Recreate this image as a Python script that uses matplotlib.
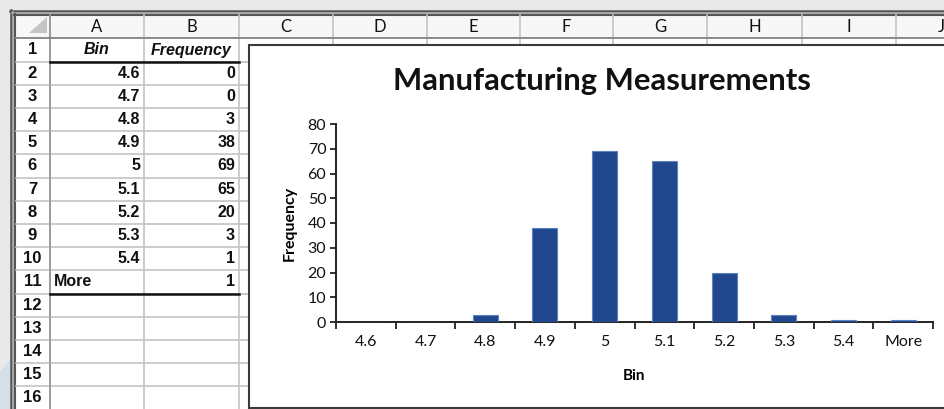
import matplotlib
matplotlib.use("Agg")
import matplotlib.pyplot as plt
from matplotlib.patches import Rectangle, Polygon

# histogram table: bin upper edges and counts
bins = ["4.6", "4.7", "4.8", "4.9", "5", "5.1", "5.2", "5.3", "5.4", "More"]
frequency = [0, 0, 3, 38, 69, 65, 20, 3, 1, 1]
column_letters = ["A", "B", "C", "D", "E", "F", "G", "H", "I", "J"]
row_numbers = list(range(1, 17))
y_ticks = [0, 10, 20, 30, 40, 50, 60, 70, 80]

W, H = 944, 409
fig = plt.figure(figsize=(W / 100, H / 100), dpi=100)
fig.patch.set_facecolor("#e9e9e9")

# sheet layer drawn in pixel coordinates
sheet = fig.add_axes([0, 0, 1, 1])
sheet.set_xlim(0, W)
sheet.set_ylim(H, 0)
sheet.axis("off")

# desktop showing through at the lower left
sheet.add_patch(Polygon([[0, 372], [10, 360], [10, H], [0, H]], closed=True,
                        facecolor="#d3e0ea", edgecolor="none"))

col_edges = [50, 144, 239, 333, 427, 520, 613, 707, 802, 896, 986]
header_top, header_bottom = 15, 37.5
row_h = 23.2
row_top = 38.4

# sheet body
sheet.add_patch(Rectangle((15, header_top), W, H, facecolor="white", edgecolor="none"))
sheet.add_patch(Rectangle((15, header_top), W, header_bottom - header_top,
                          facecolor="#f7f7f7", edgecolor="none"))

# outer double frame
for x, c, lw in [(11, "#555555", 1.8), (13, "#a8a8a8", 1.2), (15, "#555555", 1.5)]:
    sheet.plot([x, x], [x - 1, H], color=c, lw=lw)
    sheet.plot([x - 1, W], [x, x], color=c, lw=lw)

# corner triangle
sheet.add_patch(Polygon([[29, 33], [47, 33], [47, 17]], closed=True,
                        facecolor="#c4c4c4", edgecolor="none"))

# grid lines
for i in range(len(row_numbers) + 1):
    y = row_top + i * row_h
    sheet.plot([16, W], [y, y], color="#c4c4c4", lw=1.2)
for x in col_edges:
    sheet.plot([x, x], [header_top, H], color="#c4c4c4", lw=1.2)
sheet.plot([50, 50], [header_top, H], color="#8f8f8f", lw=1.1)
sheet.plot([16, W], [header_bottom, header_bottom], color="#7a7a7a", lw=1.1)

# column and row headers (last column only partly on screen)
for i, letter in enumerate(column_letters):
    xc = (col_edges[i] + col_edges[i + 1]) / 2
    sheet.text(xc, 26.5, letter, ha="center", va="center", fontsize=12,
               family="Lato", color="#111111", clip_on=True)
for r in row_numbers:
    yc = row_top + (r - 0.5) * row_h
    sheet.text(32.5, yc, str(r), ha="center", va="center", fontsize=12,
               family="Liberation Sans", weight="bold", color="#111111")

# table contents
cell_font = dict(family="Liberation Sans", fontsize=11.5, color="#111111", weight="bold")
y1 = row_top + 0.5 * row_h
sheet.text(97, y1, "Bin", ha="center", va="center", style="italic", **cell_font)
sheet.text(191, y1, "Frequency", ha="center", va="center", style="italic", **cell_font)
for i, (b, f) in enumerate(zip(bins, frequency)):
    yc = row_top + (i + 1.5) * row_h
    if b == "More":
        sheet.text(54, yc, b, ha="left", va="center", **cell_font)
    else:
        sheet.text(140, yc, b, ha="right", va="center", **cell_font)
    sheet.text(235, yc, str(f), ha="right", va="center", **cell_font)

# borders under the header row and the last bin
for r in (1, 11):
    y = row_top + r * row_h
    sheet.plot([50, 239], [y, y], color="#111111", lw=1.8)

# chart area
sheet.add_patch(Rectangle((249, 45), 720, 363, facecolor="white",
                          edgecolor="#3a3a3a", lw=1.5, zorder=5))
sheet.text(602, 81, "Manufacturing Measurements", ha="center", va="center",
           fontsize=22.3, weight="bold", family="Lato", color="#111111", zorder=6)

ax = fig.add_axes([336 / W, 1 - 322 / H, 597 / W, 198 / H], zorder=10)
ax.patch.set_alpha(0)
x = list(range(len(bins)))
ax.bar(x, frequency, width=0.42, color="#21488e", edgecolor="#5b83c0", linewidth=0.8, zorder=3)
ax.set_xlim(-0.5, len(bins) - 0.5)
ax.set_ylim(0, 80)
ax.set_yticks(y_ticks)
ax.set_xticks(x)
ax.set_xticklabels(bins)
ax.set_xticks([i - 0.5 for i in range(len(bins) + 1)], minor=True)
ax.tick_params(axis="x", which="major", length=0, pad=9, labelsize=11.5)
ax.tick_params(axis="x", which="minor", length=5, width=1.3, direction="out", color="#222222")
ax.tick_params(axis="y", length=4, width=1.3, direction="out", color="#222222", labelsize=11.5, pad=3)
for lbl in ax.get_xticklabels() + ax.get_yticklabels():
    lbl.set_family("Lato")
    lbl.set_color("#111111")
for side in ("top", "right"):
    ax.spines[side].set_visible(False)
for side in ("left", "bottom"):
    ax.spines[side].set_linewidth(1.4)
    ax.spines[side].set_color("#222222")
ax.set_xlabel("Bin", fontsize=11, weight="bold", family="Lato", labelpad=15)
ax.set_ylabel("Frequency", fontsize=11.5, weight="bold", family="Lato", labelpad=8)

fig.savefig("out.png", dpi=100, facecolor=fig.get_facecolor())
